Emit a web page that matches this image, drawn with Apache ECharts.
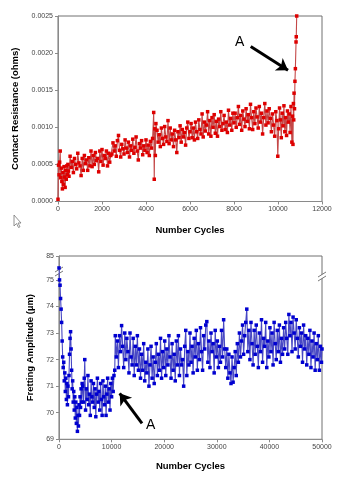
<!DOCTYPE html>
<html><head><meta charset="utf-8">
<script src="https://cdn.jsdelivr.net/npm/echarts@6/dist/echarts.min.js"></script>
<style>html,body{margin:0;padding:0;background:#fff}#c{width:340px;height:480px}</style>
</head><body><div id="c"></div>
<script>
// ---- Top chart: contact resistance (ohms) vs number of cycles ----
const resTicksX = [0, 2000, 4000, 6000, 8000, 10000, 12000];
const resTicksY = [0.0000, 0.0005, 0.0010, 0.0015, 0.0020, 0.0025];
const resistance = [
[0,0.3e-4],[25,4.9e-4],[50,3.6e-4],[75,5.3e-4],[100,6.8e-4],[125,3.2e-4],[150,4.5e-4],[175,2.7e-4],[200,1.7e-4],[225,3.9e-4],[250,2.3e-4],[275,4.7e-4],[300,3.3e-4],[325,1.9e-4],[350,4.2e-4],[375,3.0e-4],[400,4.8e-4],[425,3.6e-4],[450,5.0e-4],[475,4.1e-4],[500,3.4e-4],
[550,6.1e-4],[600,4.6e-4],[650,5.4e-4],[700,3.9e-4],[750,5.8e-4],[800,5.0e-4],[850,4.4e-4],[900,6.5e-4],[950,5.2e-4],[1000,4.8e-4],[1050,3.5e-4],[1100,5.8e-4],[1150,4.2e-4],[1200,6.2e-4],[1250,5.1e-4],[1300,5.6e-4],[1350,4.2e-4],[1400,5.9e-4],[1450,4.8e-4],[1500,6.8e-4],[1550,4.7e-4],[1600,6.2e-4],[1650,5.0e-4],[1700,6.6e-4],[1750,5.5e-4],[1800,5.8e-4],[1850,4.0e-4],[1900,6.8e-4],[1950,5.4e-4],[2000,7.0e-4],[2050,4.9e-4],[2100,6.2e-4],[2150,5.8e-4],[2200,6.8e-4],[2250,4.8e-4],[2300,6.5e-4],[2350,5.3e-4],[2400,6.2e-4],
[2450,6.4e-4],[2500,7.9e-4],[2550,6.8e-4],[2600,7.5e-4],[2650,6.1e-4],[2700,8.2e-4],[2750,8.9e-4],[2800,6.9e-4],[2850,6.0e-4],[2900,7.7e-4],[2950,7.1e-4],[3000,6.4e-4],[3050,8.3e-4],[3100,7.2e-4],[3150,6.6e-4],[3200,8.0e-4],[3250,6.0e-4],[3300,7.5e-4],[3350,6.9e-4],[3400,8.4e-4],[3450,6.5e-4],[3500,7.3e-4],[3550,8.7e-4],[3600,6.8e-4],[3650,5.6e-4],[3700,7.8e-4],[3750,7.2e-4],[3800,8.2e-4],[3850,6.3e-4],[3900,7.5e-4],[3950,6.9e-4],[4000,8.3e-4],[4050,6.6e-4],[4100,7.6e-4],[4150,6.2e-4],[4200,8.1e-4],[4250,7.2e-4],[4300,8.5e-4],
[4350,12.0e-4],[4375,3.0e-4],[4400,9.8e-4],[4425,6.2e-4],[4450,10.5e-4],
[4500,9.6e-4],[4550,8.0e-4],[4600,9.0e-4],[4650,7.4e-4],[4700,9.9e-4],[4750,8.5e-4],[4800,7.7e-4],[4850,10.1e-4],[4900,8.7e-4],[4950,8.1e-4],[5000,10.9e-4],[5050,7.8e-4],[5100,9.9e-4],[5150,8.3e-4],[5200,9.1e-4],[5250,7.4e-4],[5300,9.6e-4],[5350,8.3e-4],[5400,6.6e-4],[5450,9.4e-4],[5500,8.6e-4],[5550,10.2e-4],[5600,8.0e-4],[5650,9.7e-4],[5700,8.7e-4],[5750,9.3e-4],[5800,7.6e-4],[5850,9.9e-4],[5900,10.7e-4],[5950,8.5e-4],[6000,9.4e-4],
[6050,10.5e-4],[6100,8.6e-4],[6150,9.9e-4],[6200,8.3e-4],[6250,10.7e-4],[6300,9.4e-4],[6350,8.5e-4],[6400,11.0e-4],[6450,9.7e-4],[6500,9.1e-4],[6550,11.8e-4],[6600,8.7e-4],[6650,10.7e-4],[6700,9.5e-4],[6750,10.3e-4],[6800,12.1e-4],[6850,9.1e-4],[6900,10.9e-4],[6950,8.8e-4],[7000,11.3e-4],[7050,10.0e-4],[7100,11.7e-4],[7150,9.2e-4],[7200,10.8e-4],[7250,8.8e-4],[7300,11.1e-4],[7350,10.1e-4],[7400,12.1e-4],[7450,9.6e-4],[7500,10.5e-4],[7550,11.6e-4],[7600,9.7e-4],[7650,10.7e-4],[7700,9.3e-4],[7750,12.3e-4],[7800,10.3e-4],[7850,11.2e-4],[7900,9.6e-4],[7950,11.9e-4],[8000,10.6e-4],
[8050,11.9e-4],[8100,10.0e-4],[8150,11.3e-4],[8200,12.8e-4],[8250,10.4e-4],[8300,11.6e-4],[8350,9.6e-4],[8400,12.2e-4],[8450,11.1e-4],[8500,10.1e-4],[8550,12.5e-4],[8600,10.8e-4],[8650,11.7e-4],[8700,9.8e-4],[8750,13.1e-4],[8800,11.3e-4],[8850,9.7e-4],[8900,12.1e-4],[8950,10.5e-4],[9000,12.6e-4],[9050,11.4e-4],[9100,9.9e-4],[9150,12.8e-4],[9200,10.7e-4],[9250,11.9e-4],[9300,9.1e-4],[9350,11.3e-4],[9400,13.2e-4],[9450,10.3e-4],[9500,12.2e-4],
[9550,10.6e-4],[9600,12.5e-4],[9650,11.2e-4],[9700,9.4e-4],[9750,11.8e-4],[9800,10.3e-4],[9850,8.8e-4],[9900,12.1e-4],[9950,10.9e-4],[9990,6.1e-4],[10030,9.8e-4],[10070,12.6e-4],[10110,11.0e-4],[10150,8.6e-4],[10190,11.9e-4],[10230,10.2e-4],[10270,12.9e-4],[10310,9.4e-4],[10350,11.3e-4],[10390,8.9e-4],[10430,12.2e-4],[10470,10.7e-4],[10510,11.8e-4],[10550,9.3e-4],[10590,12.8e-4],[10630,8.0e-4],[10660,11.5e-4],[10680,7.7e-4],[10700,13.2e-4],[10715,11.0e-4],
[10730,14.6e-4],[10750,12.5e-4],[10770,16.2e-4],[10790,17.9e-4],[10820,21.5e-4],[10830,22.2e-4],[10850,25.0e-4]
];
// arrow "A" on top chart, in data coordinates (start, end)
const resArrow = [[8760, 0.00209], [10455, 0.00177]];

// ---- Bottom chart: fretting amplitude (um) vs number of cycles ----
const ampTicksX = [0, 10000, 20000, 30000, 40000, 50000];
const ampTicksY = [69, 70, 71, 72, 73, 74, 75];
const ampBreakLabel = '85';
const amplitude = [
[0,75.45],[100,75.0],[200,74.8],[300,74.3],[400,73.9],[500,73.4],[600,72.7],[700,72.1],[800,71.7],[900,71.9],[1000,71.2],[1100,71.5],[1200,70.8],[1300,71.3],[1400,70.5],[1500,71.1],[1600,70.3],[1700,71.0],[1800,70.6],[1900,71.4],[2000,72.2],[2100,72.8],[2200,73.05],[2300,72.4],[2400,71.6],[2500,70.9],[2600,71.2],[2700,70.4],[2800,70.8],[2900,70.1],[3000,70.6],[3100,69.8],[3200,70.4],[3300,69.6],[3400,70.2],[3500,69.3],[3600,69.9],[3700,69.5],[3800,70.3],[3900,69.9],[4000,70.6],[4100,70.2],[4200,70.9],[4300,70.4],[4400,71.1],
[4500,71.0],[4650,70.4],[4800,71.3],[4900,72.0],[5050,70.1],[5200,70.9],[5350,70.5],[5500,71.4],[5650,70.3],[5800,70.7],[5950,69.9],[6100,71.2],[6250,70.6],[6400,70.4],[6550,71.1],[6700,70.2],[6850,70.9],[7000,69.85],[7150,70.7],[7300,71.3],[7450,70.4],[7600,70.8],[7750,70.1],[7900,71.1],[8050,70.5],[8200,69.9],[8350,71.2],[8500,70.6],[8650,70.3],[8800,71.0],[8950,69.9],[9100,70.7],[9250,71.3],[9400,70.4],[9550,70.9],[9700,70.1],[9850,71.1],[10000,70.6],[10150,71.3],[10300,70.8],[10450,71.4],
[10600,71.6],[10700,72.9],[10900,72.1],[11100,72.7],[11300,71.7],[11500,72.9],[11700,72.3],[11900,73.28],[12100,72.5],[12300,71.7],[12500,73.0],[12700,72.0],[12900,72.8],[13100,72.3],[13300,71.5],[13500,73.0],[13700,72.1],[13900,71.8],[14100,72.8],[14300,71.4],[14500,72.5],[14700,71.8],[14900,72.9],[15100,71.6],[15300,72.4],[15500,71.3],[15700,72.2],[15900,71.6],[16100,72.6],[16300,71.2],[16500,71.9],[16700,71.5],[16900,72.4],[17100,71.0],[17300,71.8],[17500,72.5],[17700,71.3],[17900,72.1],[18100,71.1],[18300,71.9],[18500,72.6],[18700,71.4],[18900,72.2],[19100,71.6],[19300,72.8],[19500,71.3],[19700,72.3],[19900,71.7],[20100,72.7],[20300,71.4],[20500,72.4],[20700,71.8],[20900,72.9],
[21100,72.1],[21300,71.3],[21500,72.6],[21700,71.6],[21900,72.2],[22100,71.2],[22300,72.7],[22500,71.8],[22700,72.9],[22900,71.4],[23100,72.4],[23300,71.8],[23500,72.0],[23700,71.0],[23900,72.5],[24100,73.1],[24300,71.4],[24500,72.3],[24700,71.8],[24900,73.0],[25100,71.9],[25300,72.5],[25500,71.5],[25700,72.8],[25900,72.1],[26100,73.1],[26300,71.6],[26500,72.6],[26700,72.0],[26900,73.2],[27100,72.3],[27300,71.6],[27500,72.9],[27700,72.4],[27900,73.3],[28100,73.43],[28300,71.9],[28500,72.7],[28700,71.7],[28900,73.0],[29100,72.3],[29300,72.6],[29500,71.5],[29700,73.1],[29900,72.1],[30100,72.7],[30300,71.7],[30500,72.5],[30700,71.9],[30900,73.1],[31100,72.1],[31300,73.5],[31500,72.4],[31700,71.7],[31900,72.4],[32100,71.3],[32300,72.2],[32500,71.5],[32700,71.1],[32900,72.1],[33100,71.15],[33300,71.7],[33500,72.3],[33700,71.4],[33900,72.6],[34100,71.9],[34300,73.0],[34500,72.1],[34700,72.7],[34900,73.3],[35100,72.2],[35300,72.9],[35500,73.4],[35700,73.9],[35900,72.3],[36100,73.1],[36300,72.0],[36500,73.4],[36700,72.6],[36900,71.8],[37100,73.1],[37300,72.2],[37500,73.3],[37700,72.5],[37900,71.7],[38100,73.0],[38300,72.3],[38500,73.5],[38700,71.9],[38900,72.8],[39100,72.5],[39300,73.4],[39500,71.7],[39700,72.7],[39900,72.1],[40100,73.2],[40300,72.3],[40500,73.0],[40700,71.8],[40900,73.4],[41100,72.6],[41300,72.0],[41500,73.1],[41700,72.3],[41900,73.3],[42100,71.9],[42300,72.8],[42500,72.2],[42700,73.2],[42900,72.4],[43100,73.4],[43300,72.8],[43500,72.2],[43700,73.7],[43900,72.9],[44100,73.4],[44300,72.3],[44500,73.6],[44700,73.0],[44900,72.4],[45100,73.5],[45300,72.8],[45500,72.1],[45700,73.2],[45900,72.5],[46100,73.0],[46300,71.9],[46500,73.3],[46700,72.4],[46900,72.9],[47100,71.8],[47300,72.8],[47500,72.2],[47700,73.1],[47900,71.7],[48100,72.7],[48300,72.1],[48500,73.0],[48700,71.6],[48900,72.6],[49100,72.0],[49300,72.9],[49500,71.6],[49700,72.5],[49900,71.9],[50000,72.4]
];
const ampArrow = [[15780, 69.6], [11540, 70.73]];

const FONT = 'Liberation Sans, Arial, sans-serif';
const chart = echarts.init(document.getElementById('c'), null, {renderer: 'canvas'});

function axisCommon() {
  return {
    axisLine: {show: true, onZero: false, lineStyle: {color: '#8a8a8a', width: 1}},
    axisTick: {show: true, inside: false, length: 3, lineStyle: {color: '#8a8a8a'}},
    splitLine: {show: false},
    axisLabel: {fontFamily: FONT, fontSize: 7, color: '#444', margin: 4, formatter: v => String(v)},
    nameTextStyle: {fontFamily: FONT, fontSize: 9.5, fontWeight: 'bold', color: '#000'},
    nameLocation: 'middle'
  };
}

const resY = resTicksY.map(Number);
const ampY = ampTicksY.map(Number);

const option = {
  animation: false,
  backgroundColor: '#fff',
  grid: [
    {left: 58, top: 16, width: 264, height: 185.5, show: true, borderColor: '#707070', borderWidth: 1, backgroundColor: 'transparent'},
    {left: 59, top: 256, width: 263, height: 183.3, show: true, borderColor: '#707070', borderWidth: 1, backgroundColor: 'transparent'}
  ],
  xAxis: [
    Object.assign(axisCommon(), {gridIndex: 0, type: 'value', min: resTicksX[0], max: resTicksX[resTicksX.length - 1], interval: resTicksX[1] - resTicksX[0], name: 'Number Cycles', nameGap: 24}),
    Object.assign(axisCommon(), {gridIndex: 1, type: 'value', min: ampTicksX[0], max: ampTicksX[ampTicksX.length - 1], interval: ampTicksX[1] - ampTicksX[0], name: 'Number Cycles', nameGap: 22})
  ],
  yAxis: [
    Object.assign(axisCommon(), {gridIndex: 0, type: 'value', min: resY[0], max: resY[resY.length - 1], interval: resY[1] - resY[0], name: 'Contact Resistance (ohms)', nameGap: 37,
      axisLabel: {fontFamily: FONT, fontSize: 7, color: '#444', margin: 5, formatter: v => v.toFixed(4)}}),
    Object.assign(axisCommon(), {gridIndex: 1, type: 'value', min: ampY[0], max: 75.9, interval: 1, name: 'Fretting Amplitude (\u00b5m)', nameGap: 22,
      axisLabel: {fontFamily: FONT, fontSize: 7, color: '#444', margin: 5, showMaxLabel: true, formatter: v => (v > ampY[ampY.length - 1] + 0.5 ? ampBreakLabel : String(Math.round(v)))}})
  ],
  series: [
    {type: 'line', xAxisIndex: 0, yAxisIndex: 0, data: resistance, symbol: 'rect', symbolSize: 3.5, showSymbol: true, showAllSymbol: true,
      itemStyle: {color: '#de0000'}, lineStyle: {color: '#c44848', width: 1.1}, silent: true,
      markLine: {silent: true, symbol: ['none', 'arrow'], symbolSize: 11, label: {show: false},
        lineStyle: {color: '#000', width: 3, type: 'solid'},
        data: [[{coord: resArrow[0]}, {coord: resArrow[1]}]]}},
    {type: 'line', xAxisIndex: 1, yAxisIndex: 1, data: amplitude, symbol: 'rect', symbolSize: 3.5, showSymbol: true, showAllSymbol: true,
      itemStyle: {color: '#0000d0'}, lineStyle: {color: '#4848c4', width: 1.1}, silent: true,
      markLine: {silent: true, symbol: ['none', 'arrow'], symbolSize: 11, label: {show: false},
        lineStyle: {color: '#000', width: 3, type: 'solid'},
        data: [[{coord: ampArrow[0]}, {coord: ampArrow[1]}]]}}
  ],
  graphic: [
    {type: 'text', left: 235, top: 35, style: {text: 'A', fontFamily: FONT, fontSize: 14, fill: '#000'}},
    {type: 'text', left: 146, top: 418, style: {text: 'A', fontFamily: FONT, fontSize: 14, fill: '#000'}},
    // axis break marks
    {type: 'polygon', shape: {points: [[55, 272], [63, 267], [63, 271], [55, 276]]}, style: {fill: '#fff'}},
    {type: 'line', shape: {x1: 55, y1: 272, x2: 63, y2: 267}, style: {stroke: '#555', lineWidth: 0.8}},
    {type: 'line', shape: {x1: 55, y1: 276, x2: 63, y2: 271}, style: {stroke: '#555', lineWidth: 0.8}},
    {type: 'polygon', shape: {points: [[318, 277], [326, 272], [326, 276], [318, 281]]}, style: {fill: '#fff'}},
    {type: 'line', shape: {x1: 318, y1: 277, x2: 326, y2: 272}, style: {stroke: '#555', lineWidth: 0.8}},
    {type: 'line', shape: {x1: 318, y1: 281, x2: 326, y2: 276}, style: {stroke: '#555', lineWidth: 0.8}},
    // mouse cursor artifact
    {type: 'polygon', shape: {points: [[14, 215], [14, 226], [16.5, 223.5], [18.5, 227.5], [20, 226.8], [18, 223], [21, 223]]}, style: {fill: '#fff', stroke: '#777', lineWidth: 0.8}}
  ]
};
chart.setOption(option);
</script>
</body></html>
